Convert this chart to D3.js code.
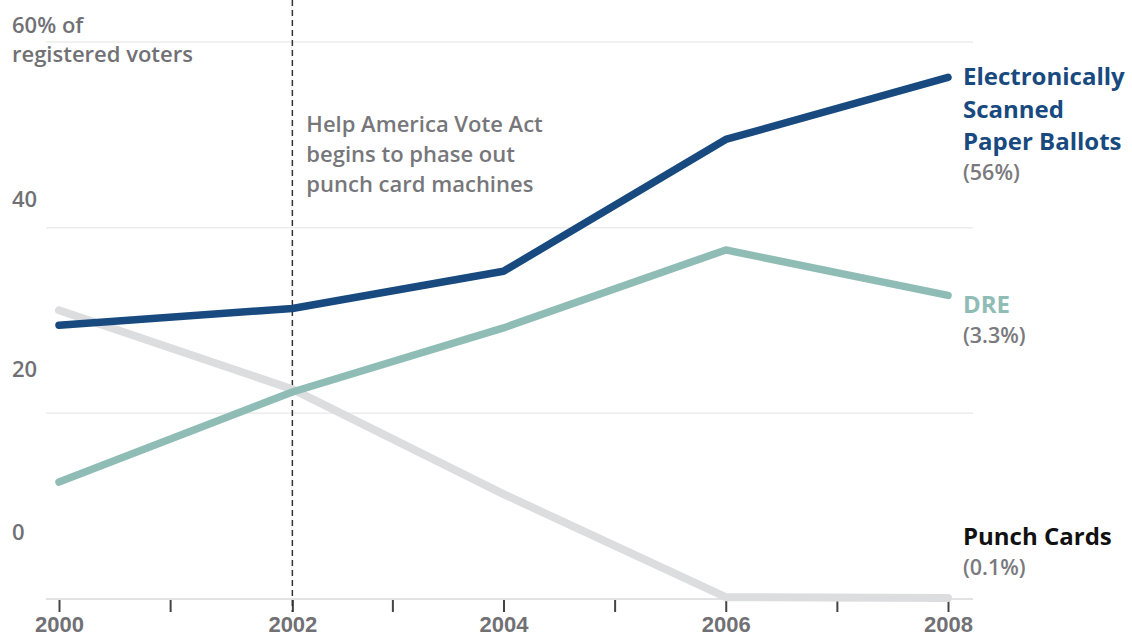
<!DOCTYPE html>
<html lang="en">
<head>
<meta charset="UTF-8">
<title>Voting equipment, 2000-2008</title>
<script src="https://cdn.jsdelivr.net/npm/d3@7"></script>
<style>
  body { margin: 0; background: #fff; }
  svg { display: block; font-family: "Open Sans", "Noto Sans", sans-serif; }
  .tick-label { fill: #717175; font-size: 22px; font-weight: 600; }
  .grid line { stroke: #ececec; stroke-width: 1.5; }
  .note { fill: #77777b; font-size: 22px; font-weight: 600; }
  .series-name { font-size: 24px; font-weight: 700; }
  .series-value { fill: #7a7a7e; font-size: 21.5px; font-weight: 600; }
</style>
</head>
<body>
<div id="chart"></div>
<script>
// x positions of the election years (2002 sits a bit right of the mark in the original)
const years = [2000, 2002.1, 2004, 2006, 2008];
const xTicks = [2000, 2001, 2002.1, 2003, 2004, 2005, 2006, 2007, 2008];
const xLabelTicks = [2000, 2002.1, 2004, 2006, 2008];
const yTicks = [0, 20, 40, 60];

const scanned = [29.5, 31.3, 35.3, 49.5, 56.2];
const dre = [12.6, 22.3, 29.2, 37.6, 32.7];
const punch = [31.1, 22.6, 11.3, 0.2, 0.1];

const seriesNames = [["Electronically", "Scanned", "Paper Ballots"], ["DRE"], ["Punch Cards"]];
const seriesLabels = ["(56%)", "(3.3%)", "(0.1%)"];
const seriesColors = ["#184a80", "#8fbdb5", "#dcdddf"];
const nameColors = ["#184a80", "#8fbdb5", "#111111"];

const noteYear = 2002.1;
const noteLines = ["Help America Vote Act", "begins to phase out", "punch card machines"];

const width = 1132, height = 639;

const svg = d3.select("#chart").append("svg")
    .attr("width", width)
    .attr("height", height);

const x = d3.scaleLinear().domain([2000, 2008]).range([59, 948]);
const y = d3.scaleLinear().domain([0, 60]).range([599, 42]);
// the value labels on the left sit above their grid lines, not evenly
const yLabel = d3.scaleLinear().domain([0, 20, 40, 60]).range([540, 377, 207, 33]);

// grid
svg.append("g").attr("class", "grid")
  .selectAll("line")
  .data(yTicks.filter(d => d > 0))
  .join("line")
    .attr("x1", 46).attr("x2", 973)
    .attr("y1", d => y(d)).attr("y2", d => y(d));

// baseline
svg.append("line")
    .attr("x1", 46).attr("x2", 973)
    .attr("y1", y(0)).attr("y2", y(0))
    .attr("stroke", "#e2e2e2")
    .attr("stroke-width", 2);

// y labels
svg.append("g").selectAll("text")
  .data(yTicks.filter(d => d < 60))
  .join("text")
    .attr("class", "tick-label")
    .attr("x", 12)
    .attr("y", d => yLabel(d))
    .text(d => d);

svg.append("text")
    .attr("class", "tick-label")
    .attr("x", 12)
    .attr("y", yLabel(60))
  .selectAll("tspan")
  .data(["60% of", "registered voters"])
  .join("tspan")
    .attr("x", 12)
    .attr("dy", (d, i) => i ? 29 : 0)
    .text(d => d);

// x axis
const xAxis = d3.axisBottom(x)
    .tickValues(xTicks)
    .tickSize(12)
    .tickPadding(4)
    .tickFormat(d => xLabelTicks.includes(d) ? Math.floor(d) : "");

const gx = svg.append("g")
    .attr("transform", `translate(0,${y(0) + 1})`)
    .call(xAxis);
gx.select(".domain").remove();
gx.selectAll(".tick line").attr("stroke", "#444").attr("stroke-width", 2);
gx.selectAll(".tick text")
    .attr("class", "tick-label")
    .attr("dy", "0.72em")
    .style("font-size", "22px")
    .attr("fill", "#717175");

// annotation line
svg.append("line")
    .attr("x1", x(noteYear)).attr("x2", x(noteYear))
    .attr("y1", 0).attr("y2", y(0) + 13)
    .attr("stroke", "#333")
    .attr("stroke-width", 1.5)
    .attr("stroke-dasharray", "6,4");

svg.append("text")
    .attr("class", "note")
    .attr("y", 132)
  .selectAll("tspan")
  .data(noteLines)
  .join("tspan")
    .attr("x", x(noteYear) + 14)
    .attr("dy", (d, i) => i ? 30 : 0)
    .text(d => d);

// lines
const line = d3.line()
    .x((d, i) => x(years[i]))
    .y(d => y(d));

const allSeries = [scanned, dre, punch];
const drawOrder = [2, 1, 0];

svg.append("g").selectAll("path")
  .data(drawOrder)
  .join("path")
    .attr("d", i => line(allSeries[i]))
    .attr("fill", "none")
    .attr("stroke", i => seriesColors[i])
    .attr("stroke-width", i => i === 2 ? 8 : 7.5)
    .attr("stroke-linecap", "round")
    .attr("stroke-linejoin", "round");

// end labels
const nameY = [85, 313, 545];
const labels = svg.append("g").selectAll("g")
  .data(allSeries)
  .join("g");

labels.append("text")
    .attr("class", "series-name")
    .attr("fill", (d, i) => nameColors[i])
    .attr("y", (d, i) => nameY[i])
  .selectAll("tspan")
  .data((d, i) => seriesNames[i])
  .join("tspan")
    .attr("x", 963)
    .attr("dy", (d, j) => j ? 32.5 : 0)
    .text(d => d);

labels.append("text")
    .attr("class", "series-value")
    .attr("x", 963)
    .attr("y", (d, i) => nameY[i] + 32.5 * (seriesNames[i].length - 1) + 30)
    .text((d, i) => seriesLabels[i]);
</script>
</body>
</html>
